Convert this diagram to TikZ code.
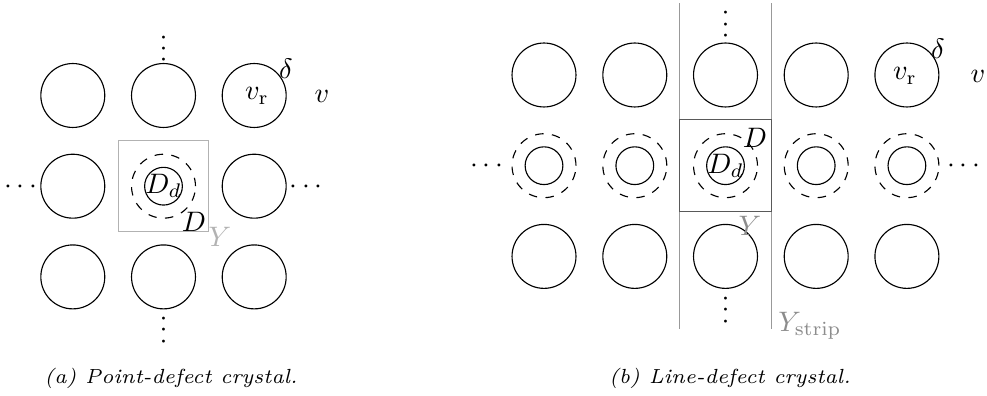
\documentclass[tikz,border=0pt]{standalone}
\usetikzlibrary{calc}
\newcommand{\mydotsv}{${\cdotp}\kern1.22pt{\cdotp}\kern1.22pt{\cdotp}$}
\begin{document}
\begin{tikzpicture}[x=0.355pt,y=-0.355pt,
  big/.style={circle,draw,minimum size=22.7pt,inner sep=0pt},
  dbig/.style={circle,draw,dashed,minimum size=22.7pt,inner sep=0pt},
  small/.style={circle,draw,minimum size=13.4pt,inner sep=0pt},
  lab/.style={inner sep=0pt},
  vd/.style={inner sep=0pt,anchor=base,rotate=90},
  hd/.style={inner sep=0pt,anchor=base},
  captxt/.style={inner sep=0pt,anchor=base,font=\fontsize{7.25pt}{9pt}\selectfont\itshape}]
\useasboundingbox (0,0) rectangle (987,396);
% ---------- panel (a) ----------
\foreach \c/\x in {1/72.8,2/163.5,3/254.2}{
  \foreach \r/\y in {1/95.5,3/276.9}{
    \node[big] (a\r\c) at (\x,\y) {};
  }
}
\node[big] (a21) at (72.8,186.2) {};
\node[big] (a23) at (254.2,186.2) {};
\node[dbig] (aD) at (163.5,186.2) {};
\node[small] (aDd) at (163.5,186.2) {};
\node[lab] (aDdl) at (163.5,186.2) {$D_d$};
\node[draw=black!30,minimum size=32.2pt,inner sep=0pt] (aY) at (163.5,186.2) {};
\node[lab] (aDl) at (194,222) {$D$};
\node[lab,text=black!30] (aYl) at (220,237) {$Y$};
\node[lab] (adelta) at (286,69) {$\delta$};
\node[lab] (avr) at (257,96) {$v_{\mathrm{r}}$};
\node[lab] (av) at (322,96) {$v$};
\node[vd] (avt) at (170.5,48.7) {\mydotsv};
\node[vd] (avb) at (170.5,330) {\mydotsv};
\node[hd] (ahl) at (20.5,193.2) {$\cdots$};
\node[hd] (ahr) at (306,193.2) {$\cdots$};
\node[captxt] (acap) at (171,384) {(a) Point-defect crystal.};
% ---------- panel (b) ----------
\foreach \c/\x in {1/544,2/634.8,3/725.5,4/816.2,5/906.9}{
  \node[big] (bt\c) at (\x,75) {};
  \node[big] (bb\c) at (\x,256.4) {};
  \node[dbig] (bD\c) at (\x,165.7) {};
  \node[small] (bDd\c) at (\x,165.7) {};
}
\coordinate (sl1) at (679.2,3.3);
\coordinate (sl2) at (679.2,329);
\coordinate (sr1) at (771.8,3.3);
\coordinate (sr2) at (771.8,329);
\draw[black!40] (sl1) -- (sl2);
\draw[black!40] (sr1) -- (sr2);
\node[draw=black!65,minimum size=32.6pt,inner sep=0pt] (bY) at (725.5,165.7) {};
\node[lab] (bDdl) at (725.5,166) {$D_d$};
\node[lab] (bDl) at (755,138) {$D$};
\node[lab,text=black!45] (bYl) at (750,226) {$Y$};
\node[lab,text=black!45] (bYs) at (810,326) {$Y_{\mathrm{strip}}$};
\node[lab] (bdelta) at (938,49) {$\delta$};
\node[lab] (bvr) at (905,76) {$v_{\mathrm{r}}$};
\node[lab] (bv) at (978,76) {$v$};
\node[vd] (bvt) at (732.5,24.3) {\mydotsv};
\node[vd] (bvb) at (732.5,310) {\mydotsv};
\node[hd] (bhl) at (486.5,172.7) {$\cdots$};
\node[hd] (bhr) at (963.5,172.7) {$\cdots$};
\node[captxt] (bcap) at (730,384) {(b) Line-defect crystal.};
\end{tikzpicture}
\end{document}
